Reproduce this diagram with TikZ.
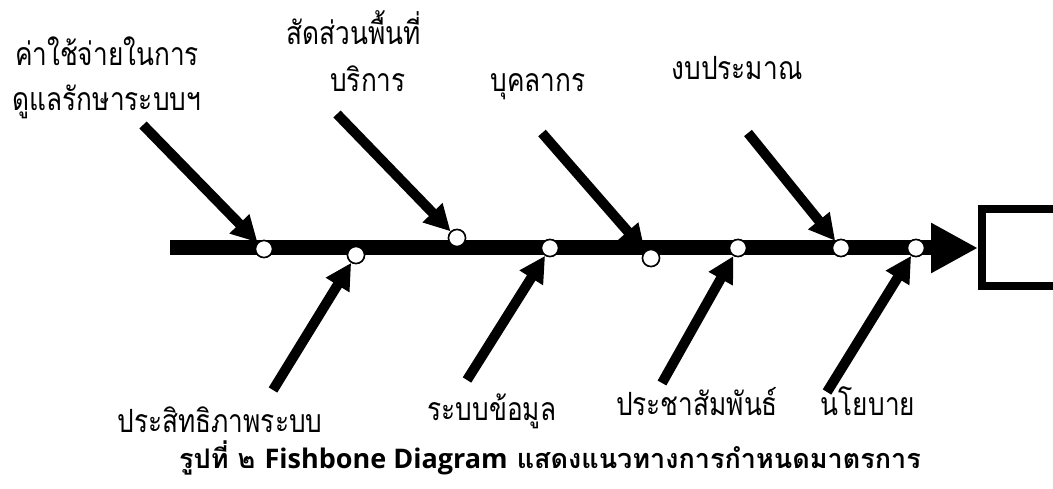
\documentclass[tikz,border=0pt]{standalone}
\usepackage{fontspec}
\usetikzlibrary{arrows.meta}
\newfontfamily\thaifont[Script=Thai,FakeStretch=0.82]{Loma}
\newfontfamily\capthai[Script=Thai]{Loma}
\newfontfamily\latinfont{Open Sans}[BoldFont={Open Sans Bold}]
\tikzset{
  lbl/.style={font=\thaifont\fontsize{32}{36}\selectfont, anchor=base, inner sep=0pt},
  captext/.style={font=\fontsize{27}{30}\selectfont\bfseries, anchor=base, inner sep=0pt},
  joint/.style={circle, draw=black, fill=white, line width=1.5pt, minimum size=17pt, inner sep=0pt},
  bone/.style={line width=10pt, -{Triangle[length=26pt,width=26pt]}},
  spine/.style={line width=15pt, -{Triangle[length=47pt,width=47pt]}},
  headbox/.style={draw=black, line width=8pt, minimum width=120pt, minimum height=77pt, inner sep=0pt}
}
\begin{document}
\begin{tikzpicture}[x=1pt,y=-1pt]
\useasboundingbox (0,0) rectangle (1053,489);
\clip (0,0) rectangle (1053,489);
% head box
\node[headbox] (box) at (1042,248) {};
% spine
\coordinate (tail) at (170,248);
\draw[spine] (tail) -- (box.west);
% joints
\node[joint] (c1) at (264,249) {};
\node[joint] (c2) at (356,255) {};
\node[joint] (c3) at (457,238) {};
\node[joint] (c4) at (550,248) {};
\node[joint] (c5) at (651,258) {};
\node[joint] (c6) at (738,248) {};
\node[joint] (c7) at (841,248) {};
\node[joint] (c8) at (916,248) {};
% bone starts
\coordinate (s1) at (143,125);
\coordinate (s3) at (337,114);
\coordinate (s5) at (542,133);
\coordinate (s7) at (748,133);
\coordinate (s2) at (273,390);
\coordinate (s4) at (467,380);
\coordinate (s6) at (662,383);
\coordinate (s8) at (827,392);
\draw[bone] (s1) -- (c1);
\draw[bone] (s3) -- (c3);
\draw[bone] (s5) -- (c5);
\draw[bone] (s7) -- (c7);
\draw[bone] (s2) -- (c2);
\draw[bone] (s4) -- (c4);
\draw[bone] (s6) -- (c6);
\draw[bone] (s8) -- (c8);
% redraw joints on top
\foreach \c in {c1,c2,c3,c4,c5,c6,c7,c8}{\node[joint] at (\c) {};}
% labels
\node[lbl] (t1a) at (107,66) {ค่าใช้จ่ายในการ};
\node[lbl] (t1b) at (107,111) {ดูแลรักษาระบบฯ};
\node[lbl] (t2a) at (354,45) {สัดส่วนพื้นที่};
\node[lbl] (t2b) at (368,92) {บริการ};
\node[lbl] (t3) at (538,92) {บุคลากร};
\node[lbl] (t4) at (737,80) {งบประมาณ};
\node[lbl] (b1) at (220,432) {ประสิทธิภาพระบบ};
\node[lbl] (b2) at (492,420) {ระบบข้อมูล};
\node[lbl] (b3) at (697,415) {ประชาสัมพันธ์};
\node[lbl] (b4) at (868,415) {นโยบาย};
\node[captext] (caption) at (550,468) {\capthai รูปที่ ๒ {\latinfont Fishbone Diagram} แสดงแนวทางการกำหนดมาตรการ};
\end{tikzpicture}
\end{document}
